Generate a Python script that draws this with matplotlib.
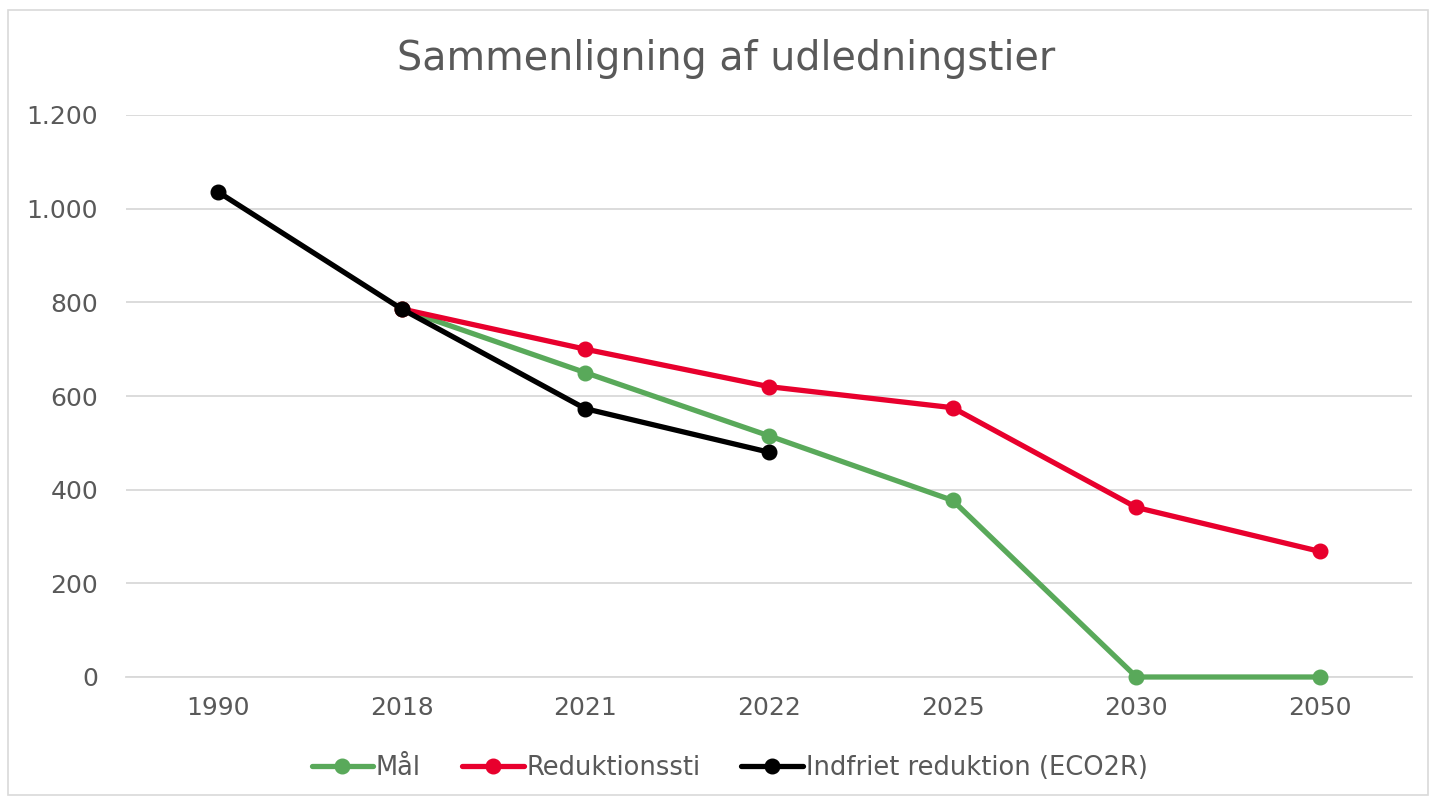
import numpy as np
import matplotlib.pyplot as plt
from matplotlib.patches import Rectangle
from matplotlib.ticker import FuncFormatter

categories = ['1990', '2018', '2021', '2022', '2025', '2030', '2050']

# None = no value for that year
maal = [None, 786, 650, 515, 377, 0, 0]
reduktionssti = [None, 786, 700, 620, 575, 362, 268]
indfriet = [1036, 786, 573, 480, None, None, None]

series = [
    ('Mål', maal, '#59A95A'),
    ('Reduktionssti', reduktionssti, '#E8002D'),
    ('Indfriet reduktion (ECO2R)', indfriet, '#000000'),
]

fig = plt.figure(figsize=(14.36, 8), dpi=100)
ax = fig.add_axes([0.0877, 0.15375, 0.8956, 0.7025])

x = np.arange(len(categories))
for name, vals, col in series:
    v = np.array([np.nan if a is None else a for a in vals], dtype=float)
    ax.plot(x, v, color=col, lw=3.8, marker='o', ms=10.5, label=name,
            solid_capstyle='round', zorder=3, clip_on=False)

ax.set_xlim(-0.5, len(categories) - 0.5)
ax.set_ylim(0, 1200)
ax.set_yticks(range(0, 1201, 200))
ax.yaxis.set_major_formatter(FuncFormatter(lambda v, p: f'{int(v):,}'.replace(',', '.')))
ax.set_xticks(x)
ax.set_xticklabels(categories)
ax.grid(axis='y', color='#D9D9D9', lw=1.3, zorder=0)
for s in ['top', 'right', 'left']:
    ax.spines[s].set_visible(False)
ax.spines['bottom'].set_color('#D9D9D9')
ax.spines['bottom'].set_linewidth(1.3)
ax.tick_params(length=0, labelsize=18, labelcolor='#595959', pad=14)
ax.tick_params(axis='y', pad=20)

fig.text(0.506, 0.926, 'Sammenligning af udledningstier', ha='center', va='center',
         fontsize=28.5, color='#595959')

fig.legend(loc='center', bbox_to_anchor=(0.508, 0.04), ncol=3, frameon=False,
           fontsize=18.5, labelcolor='#595959', handlelength=2.4, handletextpad=0.1,
           columnspacing=1.6)

fig.patches.append(Rectangle((0.0056, 0.006), 0.989, 0.981, transform=fig.transFigure,
                             fill=False, edgecolor='#D9D9D9', lw=1.2))

fig.savefig('out.png', dpi=100)
